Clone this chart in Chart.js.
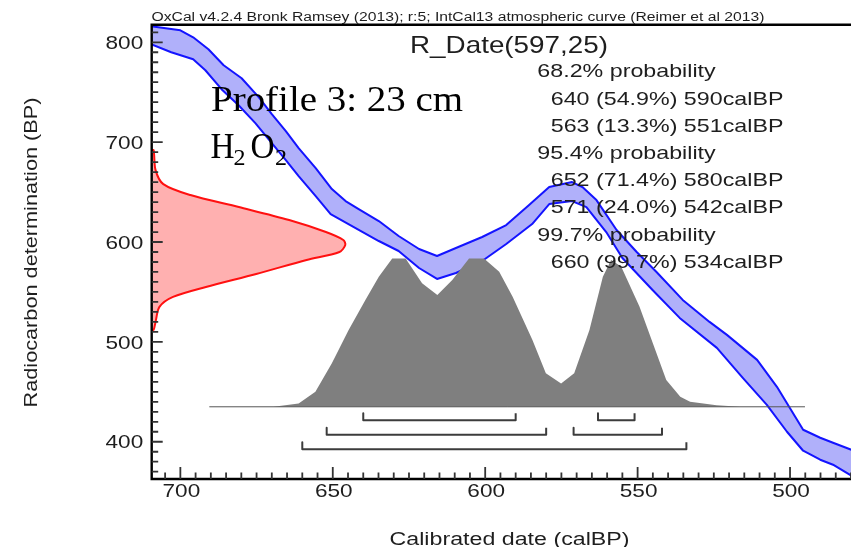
<!DOCTYPE html>
<html>
<head>
<meta charset="utf-8">
<script src="https://cdn.jsdelivr.net/npm/chart.js@4.4.0/dist/chart.umd.min.js"></script>
<style>
  html, body { margin: 0; padding: 0; background: #fff; overflow: hidden; }
  #wrap { position: relative; width: 851px; height: 547px; }
</style>
</head>
<body>
<div id="wrap"><canvas id="c" width="851" height="547"></canvas></div>
<script>
// IntCal13 calibration curve, upper and lower 1-sigma edges (calBP -> 14C BP)
const upperCal = [709.6, 700.0, 695.8, 690.8, 685.8, 679.9, 674.3, 670.0, 665.4, 661.2, 655.6, 650.3, 645.8, 641.5, 634.9, 628.4, 621.7, 615.8, 609.6, 601.0, 593.1, 585.6, 579.0, 571.5, 568.1, 563.5, 556.9, 550.3, 543.8, 535.2, 526.4, 520.7, 510.8, 504.3, 495.7, 490.1, 485.9, 479.9];
const upperBP  = [816, 812, 805, 793, 777, 764, 745, 728, 711, 694, 674, 653, 641, 633, 621, 606, 593, 586, 594, 605, 617, 637, 655, 660, 655, 642, 612, 590, 570, 542, 520, 507, 482, 455, 412, 404, 399, 392];
const lowerCal = [709.6, 703.0, 695.8, 691.8, 686.5, 680.9, 675.4, 670.0, 665.4, 661.2, 655.6, 650.7, 634.9, 628.4, 621.7, 615.8, 609.6, 601.0, 593.1, 584.6, 579.0, 571.5, 566.8, 560.3, 555.0, 545.1, 536.2, 524.0, 515.5, 507.6, 501.0, 495.7, 490.1, 485.9, 479.9];
const lowerBP  = [798, 790, 783, 772, 753, 737, 719, 699, 682, 666, 646, 628, 601, 591, 574, 563, 569, 581, 598, 618, 638, 641, 635, 610, 584, 552, 524, 494, 464, 437, 410, 391, 382, 377, 366];

// Radiocarbon measurement and its relative density along the 14C axis
const dateMean = 597;
const dateSigma = 25;
const dateBP      = [692, 672, 658, 647, 635, 622, 610, 602, 597, 590, 582, 568, 555, 545, 535, 520, 512];
const dateDensity = [0.01, 0.02, 0.06, 0.2, 0.45, 0.71, 0.9, 0.99, 1.0, 0.97, 0.8, 0.54, 0.28, 0.11, 0.04, 0.02, 0.01];

// Calibrated probability distribution (relative to its maximum)
const calBP   = [669.4, 661.2, 655.7, 650.3, 644.8, 639.3, 634.9, 630.5, 626.1, 620.7, 615.7, 610.8, 605.3, 600.4, 595.4, 591.0, 584.5, 580.1, 575.1, 570.8, 565.8, 561.4, 558.7, 555.4, 549.4, 545.0, 540.6, 536.0, 532.8, 524.1, 516.5];
const calProb = [0, 0.023, 0.101, 0.293, 0.518, 0.721, 0.878, 1, 1, 0.834, 0.755, 0.856, 1, 1, 0.912, 0.743, 0.45, 0.226, 0.158, 0.226, 0.518, 0.878, 0.99, 0.946, 0.676, 0.428, 0.18, 0.068, 0.034, 0.011, 0];
const distSpan = [690.5, 495.1];

// Highest probability ranges: [from, to, percent]
const range68  = [[640, 590, 54.9], [563, 551, 13.3]];
const range95  = [[652, 580, 71.4], [571, 542, 24.0]];
const range997 = [[660, 534, 99.7]];
const rangeLevels = ['68.2%', '95.4%', '99.7%'];

// Axis labels
const xTickLabels = [700, 650, 600, 550, 500];
const yTickLabels = [800, 700, 600, 500, 400];

// ---- layout constants ----
const CAL_MAX = 709.4, CAL_MIN = 480;
const BP_MIN = 362.7, BP_MAX = 817.6;
const DATE_WIDTH = 63.5;          // cal-year extent of the 14C density peak
const DIST_BASE = 435;            // baseline of the calibrated distribution
const DIST_HEIGHT = 148.4;        // height of the distribution maximum
const BRACKET_TICK = 7;

const pts = (xs, ys) => xs.map((x, i) => ({ x: x, y: ys[i] }));

const envelope = pts(upperCal, upperBP).concat(pts(lowerCal, lowerBP).reverse());
const dateShape = [{ x: CAL_MAX, y: dateBP[0] }]
  .concat(dateBP.map((b, i) => ({ x: CAL_MAX - dateDensity[i] * DATE_WIDTH, y: b })))
  .concat([{ x: CAL_MAX, y: dateBP[dateBP.length - 1] }]);
const calShape = calBP.map((c, i) => ({ x: c, y: DIST_BASE + calProb[i] * DIST_HEIGHT }));

const rangeSets = [range68, range95, range997];
const bracketSets = [];
rangeSets.forEach((set, row) => {
  const lvl = DIST_BASE - 13.5 - 14.5 * row;
  set.forEach(r => {
    bracketSets.push({
      data: [{ x: r[0], y: lvl + BRACKET_TICK }, { x: r[0], y: lvl }, { x: r[1], y: lvl }, { x: r[1], y: lvl + BRACKET_TICK }],
      borderColor: '#3c3c3c', borderWidth: 2, fill: false, tension: 0
    });
  });
});

const NONE = 'rgba(0,0,0,0)';
const datasets = bracketSets.concat([
  { data: [{ x: distSpan[0], y: DIST_BASE }, { x: distSpan[1], y: DIST_BASE }], borderColor: '#555', borderWidth: 1, fill: false },
  { data: calShape, borderColor: NONE, borderWidth: 1, backgroundColor: '#7f7f7f', fill: { value: DIST_BASE }, tension: 0 },
  { data: dateShape, borderColor: '#ff1010', borderWidth: 2, backgroundColor: '#ffb0b0', fill: 'shape', tension: 0.3 },
  { data: pts(upperCal, upperBP), borderColor: '#1414ff', borderWidth: 2, fill: false, tension: 0 },
  { data: pts(lowerCal, lowerBP), borderColor: '#1414ff', borderWidth: 2, fill: false, tension: 0 },
  { data: envelope, borderColor: NONE, borderWidth: 1, backgroundColor: '#b0b0fa', fill: 'shape', tension: 0 }
]);

function measure(ctx, s, font) {
  ctx.save(); ctx.font = font; const w = ctx.measureText(s).width; ctx.restore(); return w;
}
function drawText(ctx, s, x, y, font, sx, align, color) {
  ctx.save();
  ctx.font = font;
  ctx.fillStyle = color || '#1e1e1e';
  ctx.textBaseline = 'alphabetic';
  ctx.textAlign = 'left';
  const w = ctx.measureText(s).width * sx;
  const x0 = align === 'right' ? x - w : (align === 'center' ? x - w / 2 : x);
  ctx.translate(x0, y);
  ctx.scale(sx, 1);
  ctx.fillText(s, 0, 0);
  ctx.restore();
}

const SANS = '"Liberation Sans", Arial, sans-serif';
const SERIF = '"Liberation Serif", "Times New Roman", serif';

const decor = {
  id: 'decor',
  afterDatasetsDraw(chart) {
    const ctx = chart.ctx;
    const a = chart.chartArea;
    const xs = chart.scales.x, ys = chart.scales.y;

    // frame
    ctx.save();
    ctx.strokeStyle = '#000';
    ctx.lineWidth = 2.4;
    ctx.beginPath();
    ctx.moveTo(a.right + 5, a.top);
    ctx.lineTo(a.left, a.top);
    ctx.lineTo(a.left, a.bottom);
    ctx.lineTo(a.right + 5, a.bottom);
    ctx.stroke();

    // inward ticks
    ctx.strokeStyle = '#333';
    ctx.lineWidth = 1.8;
    ctx.beginPath();
    for (let v = 370; v <= 810; v += 10) {
      const py = ys.getPixelForValue(v);
      const len = v % 100 === 0 ? 11 : 6.5;
      ctx.moveTo(a.left, py); ctx.lineTo(a.left + len, py);
    }
    for (let v = 705; v >= 480; v -= 5) {
      const px = xs.getPixelForValue(v);
      const len = v % 50 === 0 ? 12 : 6.5;
      ctx.moveTo(px, a.bottom); ctx.lineTo(px, a.bottom - len);
    }
    ctx.stroke();
    ctx.restore();

    // tick labels
    const tickFont = '18.5px ' + SANS;
    const tsx = 37.7 / measure(ctx, '800', tickFont);
    yTickLabels.forEach(v => {
      const py = ys.getPixelForValue(v);
      drawText(ctx, String(v), a.left - 8.5, py + 6.7, tickFont, tsx, 'right');
    });
    xTickLabels.forEach(v => {
      const px = xs.getPixelForValue(v);
      drawText(ctx, String(v), px + 1, a.bottom + 18.3, tickFont, tsx, 'center');
    });

    // axis titles
    const titleFont = '17.5px ' + SANS;
    const xt = 'Calibrated date (calBP)';
    drawText(ctx, xt, 509.5, 544.5, titleFont, 240 / measure(ctx, xt, titleFont), 'center');
    const yt = 'Radiocarbon determination (BP)';
    ctx.save();
    ctx.translate(36.5, 252.5);
    ctx.rotate(-Math.PI / 2);
    drawText(ctx, yt, 0, 0, titleFont, 310 / measure(ctx, yt, titleFont), 'center');
    ctx.restore();

    // header
    const hdr = 'OxCal v4.2.4 Bronk Ramsey (2013); r:5; IntCal13 atmospheric curve (Reimer et al 2013)';
    const hFont = '12px ' + SANS;
    drawText(ctx, hdr, 151.5, 21.3, hFont, 613 / measure(ctx, hdr, hFont), 'left');

    // sample name
    const nm = 'R_Date(' + dateMean + ',' + dateSigma + ')';
    const nFont = '24px ' + SANS;
    drawText(ctx, nm, 410, 53.3, nFont, 198 / measure(ctx, nm, nFont), 'left');

    // probability ranges
    const sFont = '19px ' + SANS;
    const sample = '640 (54.9%) 590calBP';
    const ssx = 232.7 / measure(ctx, sample, sFont);
    let line = 0;
    const base = 77.3, step = 27.2;
    rangeSets.forEach((set, i) => {
      drawText(ctx, rangeLevels[i] + ' probability', 537.3, base + step * line, sFont, ssx, 'left');
      line++;
      set.forEach(r => {
        drawText(ctx, r[0] + ' (' + r[2].toFixed(1) + '%) ' + r[1] + 'calBP', 550.7, base + step * line, sFont, ssx, 'left');
        line++;
      });
    });

    // sample description
    const pFont = '36px ' + SERIF;
    const ptxt = 'Profile 3: 23 cm';
    drawText(ctx, ptxt, 211, 110.7, pFont, 252 / measure(ctx, ptxt, pFont), 'left', '#000');
    const hFont2 = '35px ' + SERIF;
    const subFont = '24px ' + SERIF;
    drawText(ctx, 'H', 210.5, 158.3, hFont2, 0.95, 'left', '#000');
    drawText(ctx, '2', 233.5, 164.5, subFont, 1, 'left', '#000');
    drawText(ctx, 'O', 250.5, 158.3, hFont2, 0.95, 'left', '#000');
    drawText(ctx, '2', 275, 164.5, subFont, 1, 'left', '#000');
  }
};

new Chart(document.getElementById('c'), {
  type: 'line',
  data: { datasets: datasets },
  options: {
    responsive: false,
    devicePixelRatio: 1,
    animation: false,
    layout: { padding: { left: 151.7, top: 24.7, right: 0, bottom: 68 } },
    elements: { point: { radius: 0, hoverRadius: 0 }, line: { borderJoinStyle: 'round' } },
    plugins: { legend: { display: false }, tooltip: { enabled: false } },
    events: [],
    scales: {
      x: { type: 'linear', reverse: true, min: CAL_MIN, max: CAL_MAX, display: false },
      y: { type: 'linear', min: BP_MIN, max: BP_MAX, display: false }
    }
  },
  plugins: [decor]
});
</script>
</body>
</html>
